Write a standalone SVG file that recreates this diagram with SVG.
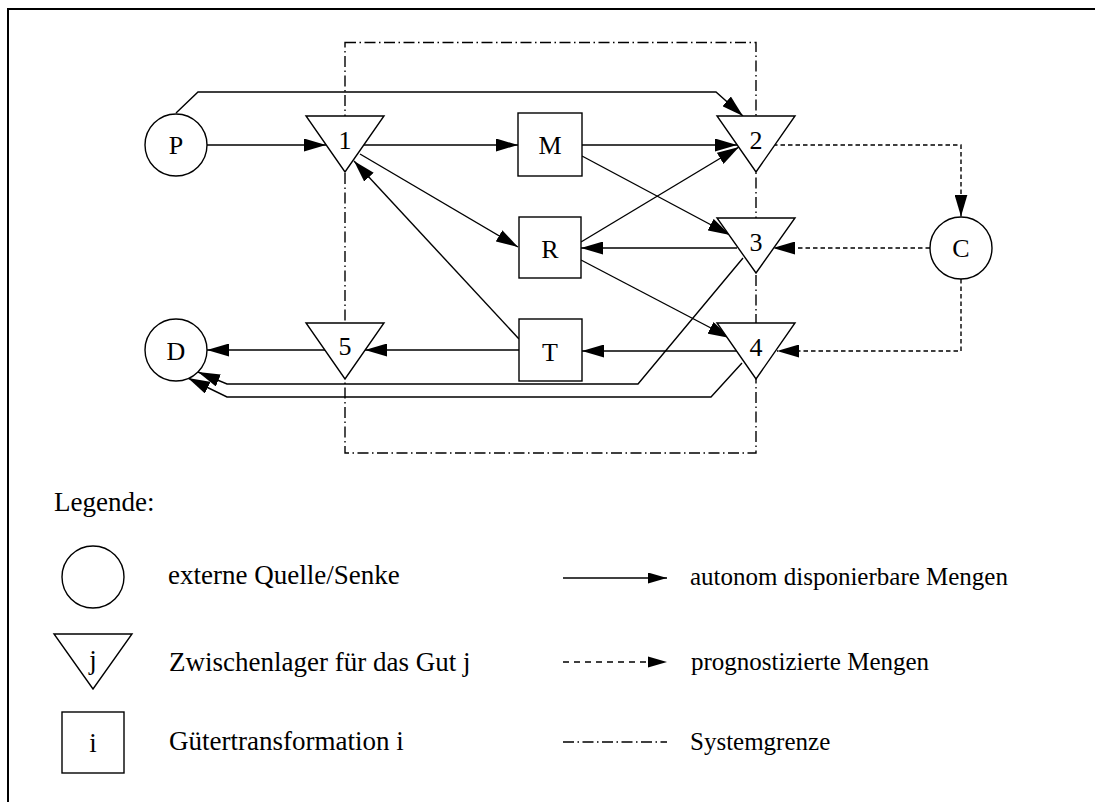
<svg xmlns="http://www.w3.org/2000/svg" width="1095" height="802" viewBox="0 0 1095 802">
<defs>
<marker id="ah" markerUnits="userSpaceOnUse" markerWidth="23" markerHeight="13" refX="22" refY="6.5" orient="auto">
<path d="M0,0 L22,6.5 L0,13 Z" fill="#000"/>
</marker>
<marker id="ahs" markerUnits="userSpaceOnUse" markerWidth="20" markerHeight="11" refX="19" refY="5.5" orient="auto">
<path d="M0,0 L19,5.5 L0,11 Z" fill="#000"/>
</marker>
<style>
.n{fill:#fff;stroke:#000;stroke-width:1.4}
.t{font-family:"Liberation Serif","Times New Roman",serif;font-size:26px;fill:#000;text-anchor:middle}
.lt{font-family:"Liberation Serif","Times New Roman",serif;font-size:27px;fill:#000}
.rt{font-family:"Liberation Serif","Times New Roman",serif;font-size:25px;fill:#000}
.s{fill:none;stroke:#000;stroke-width:1.4}
.d{fill:none;stroke:#000;stroke-width:1.4;stroke-dasharray:4.5 3}
.b{fill:none;stroke:#000;stroke-width:1.4;stroke-dasharray:11 3.5 1.5 3.5}
</style>
</defs>
<rect width="1095" height="802" fill="#fff"/>
<path d="M8,802 L8,9 L1095,9" fill="none" stroke="#000" stroke-width="2"/>
<g id="systemgrenze">
<rect x="345" y="42.5" width="411" height="410.5" class="b"/>
</g>
<g id="connectors">
<path class="s" d="M207,145 L326,145" marker-end="url(#ah)"/>
<path class="s" d="M364,145 L518,145" marker-end="url(#ah)"/>
<path class="s" d="M582,145 L737,145" marker-end="url(#ah)"/>
<path class="s" d="M176,113 L198,92 L716,92 L743,116" marker-end="url(#ah)"/>
<path class="s" d="M360,154 L518,247" marker-end="url(#ah)"/>
<path class="s" d="M519,339 L354,161" marker-end="url(#ah)"/>
<path class="s" d="M582,156 L730,235" marker-end="url(#ah)"/>
<path class="s" d="M581,242 L739,147" marker-end="url(#ah)"/>
<path class="s" d="M737,248 L581,248" marker-end="url(#ah)"/>
<path class="s" d="M581,260 L730,338" marker-end="url(#ah)"/>
<path class="s" d="M737,351 L582,351" marker-end="url(#ah)"/>
<path class="s" d="M519,350 L365,350" marker-end="url(#ah)"/>
<path class="s" d="M325,350 L207,350" marker-end="url(#ah)"/>
<path class="s" d="M743,258 L638,384 L227,384 L198,372" marker-end="url(#ah)"/>
<path class="s" d="M742,363 L711,397 L227,397 L188,378" marker-end="url(#ah)"/>
<path class="d" d="M773,145 L961,145 L961,216.5" marker-end="url(#ah)"/>
<path class="d" d="M930,248 L773,248" marker-end="url(#ah)"/>
<path class="d" d="M961,279 L961,351 L777,351" marker-end="url(#ah)"/>
</g>
<g id="node-P"><circle class="n" cx="176" cy="145" r="31"/><text class="t" x="176" y="154">P</text></g>
<g id="node-D"><circle class="n" cx="176" cy="350" r="31"/><text class="t" x="176" y="360">D</text></g>
<g id="node-C"><circle class="n" cx="961" cy="248" r="31"/><text class="t" x="961" y="257">C</text></g>
<g id="node-1"><polygon class="n" points="306,116 384,116 345,172"/><text class="t" x="345" y="149">1</text></g>
<g id="node-2"><polygon class="n" points="717,116 795,116 756,172"/><text class="t" x="756" y="149">2</text></g>
<g id="node-3"><polygon class="n" points="717,218 795,218 756,273"/><text class="t" x="756" y="251">3</text></g>
<g id="node-4"><polygon class="n" points="717,323 795,323 756,379"/><text class="t" x="756" y="356">4</text></g>
<g id="node-5"><polygon class="n" points="306,323 384,323 345,379"/><text class="t" x="345" y="355">5</text></g>
<g id="node-M"><rect class="n" x="518" y="113" width="64" height="63"/><text class="t" x="550" y="154">M</text></g>
<g id="node-R"><rect class="n" x="519" y="217" width="62" height="61"/><text class="t" x="550" y="258">R</text></g>
<g id="node-T"><rect class="n" x="519" y="319" width="63" height="62"/><text class="t" x="550" y="361">T</text></g>
<g id="legend">
<text class="lt" x="54" y="511">Legende:</text>
<circle class="n" cx="93" cy="577" r="31"/>
<text class="lt" x="168" y="584">externe Quelle/Senke</text>
<polygon class="n" points="54,634 132,634 93,689"/>
<text class="t" x="93" y="669" style="font-size:27px">j</text>
<text class="lt" x="169" y="671">Zwischenlager für das Gut j</text>
<rect class="n" x="62" y="712" width="62" height="61"/>
<text class="t" x="93" y="752" style="font-size:27px">i</text>
<text class="lt" x="169" y="750">Gütertransformation i</text>
<path class="s" d="M563,578 L667,578" marker-end="url(#ahs)"/>
<text class="rt" x="690" y="585">autonom disponierbare Mengen</text>
<path class="s" d="M563,662 L650,662" style="stroke-dasharray:6 5"/>
<path d="M648,656.5 L667,662 L648,667.5 Z" fill="#000"/>
<text class="rt" x="691" y="670">prognostizierte Mengen</text>
<path class="b" d="M563,742 L667,742"/>
<text class="rt" x="690" y="750">Systemgrenze</text>
</g>
</svg>
